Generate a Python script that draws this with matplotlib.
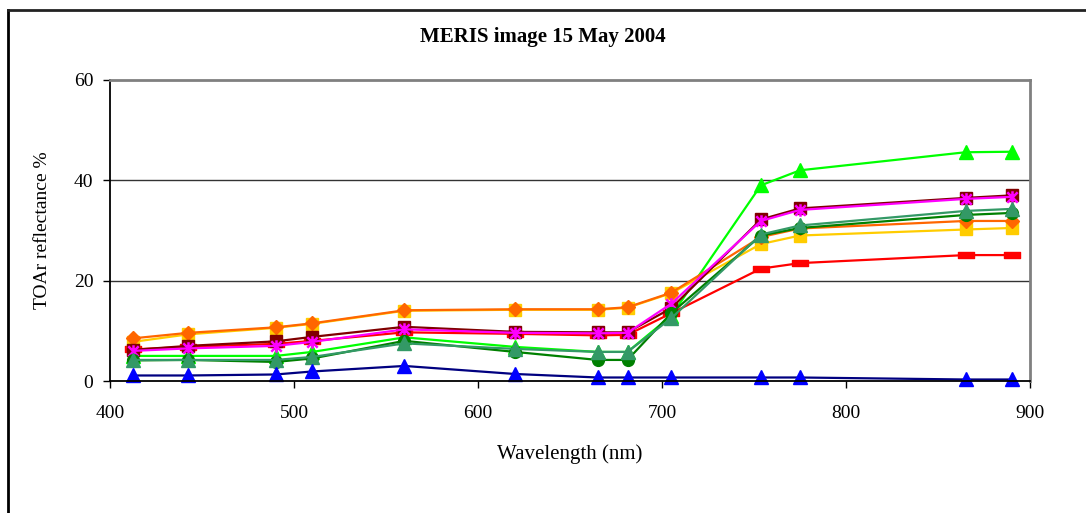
import matplotlib
matplotlib.use("Agg")
import matplotlib.pyplot as plt
from matplotlib.lines import Line2D
from matplotlib.path import Path

plt.rcParams["font.family"] = ["Liberation Serif", "DejaVu Serif"]

wl = [412.5, 442.5, 490, 510, 560, 620, 665, 681.25, 705, 753.75, 775, 865, 890]

lime = [5.0, 5.0, 5.0, 5.8, 8.7, 6.8, 5.8, 5.8, 13.0, 39.0, 42.0, 45.6, 45.7]
red = [6.3, 6.8, 7.4, 8.0, 9.7, 9.4, 9.1, 9.2, 13.5, 22.4, 23.5, 25.1, 25.1]
gold = [7.8, 9.3, 10.6, 11.4, 14.0, 14.2, 14.2, 14.6, 17.5, 27.3, 29.0, 30.2, 30.5]
orange = [8.5, 9.6, 10.7, 11.5, 14.1, 14.3, 14.3, 14.7, 17.6, 28.7, 30.4, 31.9, 31.9]
maroon = [6.2, 7.0, 7.9, 8.8, 10.8, 9.8, 9.7, 9.7, 14.5, 32.2, 34.4, 36.5, 37.0]
magenta = [6.0, 6.5, 7.0, 7.8, 10.3, 9.6, 9.5, 9.6, 15.4, 31.9, 34.1, 36.3, 36.7]
green = [4.1, 4.2, 3.8, 4.5, 8.0, 5.8, 4.2, 4.2, 13.5, 29.0, 30.5, 33.1, 33.5]
seagreen = [4.2, 4.2, 4.2, 4.8, 7.5, 6.4, 5.8, 5.8, 12.5, 29.2, 31.0, 33.9, 34.3]
blue = [1.1, 1.1, 1.3, 1.9, 3.0, 1.4, 0.7, 0.7, 0.7, 0.7, 0.7, 0.3, 0.3]

# excel style "dash" marker
dash = Path([(-1, -0.35), (1, -0.35), (1, 0.35), (-1, 0.35), (-1, -0.35)],
            [Path.MOVETO, Path.LINETO, Path.LINETO, Path.LINETO, Path.CLOSEPOLY])
# excel style asterisk: X plus vertical stroke
aster = Path([(-1, -1), (1, 1), (-1, 1), (1, -1), (0, -1.2), (0, 1.2)],
             [Path.MOVETO, Path.LINETO, Path.MOVETO, Path.LINETO, Path.MOVETO, Path.LINETO])

fig = plt.figure(figsize=(10.86, 5.13), dpi=100)
ax = fig.add_axes([110 / 1086, 1 - 381 / 513, 920 / 1086, 301 / 513])

lw = 1.6
kw = dict(lw=lw, clip_on=False)
ax.plot(wl, lime, color="#00FF00", marker="^", ms=10, mec="#00FF00", mfc="#00FF00", **kw)
ax.plot(wl, red, color="#FF0000", marker=dash, ms=11, mec="#FF0000", mfc="#FF0000", **kw)
ax.plot(wl, gold, color="#FFCC00", marker="s", ms=8.5, mec="#FFCC00", mfc="#FFCC00", **kw)
ax.plot(wl, orange, color="#FF6600", marker="D", ms=7, mec="#FF6600", mfc="#FF6600", **kw)
ax.plot(wl, maroon, color="#800000", marker="s", ms=8.5, mec="#800000", mfc="#800000", **kw)
ax.plot(wl, magenta, color="#FF00FF", marker=aster, ms=9, mec="#FF00FF", mew=1.8, **kw)
ax.plot(wl, green, color="#008000", marker="o", ms=8.5, mec="#008000", mfc="#008000", **kw)
ax.plot(wl, seagreen, color="#339966", marker="^", ms=10, mec="#339966", mfc="#339966", **kw)
ax.plot(wl, blue, color="#000080", marker="^", ms=10, mec="#0000FF", mfc="#0000FF", **kw)

ax.set_xlim(400, 900)
ax.set_ylim(0, 60)
ax.set_xticks([400, 500, 600, 700, 800, 900])
ax.set_yticks([0, 20, 40, 60])
for y in [20, 40]:
    ax.axhline(y, color="#333333", lw=1.0, zorder=0)

ax.spines["top"].set_color("#808080")
ax.spines["right"].set_color("#808080")
ax.spines["top"].set_linewidth(2)
ax.spines["right"].set_linewidth(2)
ax.spines["left"].set_color("black")
ax.spines["bottom"].set_color("black")
ax.spines["left"].set_linewidth(1.3)
ax.spines["bottom"].set_linewidth(1.3)
ax.tick_params(axis="both", direction="out", length=5, width=1, labelsize=14)
ax.tick_params(axis="x", pad=12)
ax.tick_params(axis="y", pad=7)

ax.set_xlabel("Wavelength (nm)", fontsize=15, labelpad=16)
ax.set_ylabel("TOAr reflectance %", fontsize=14, labelpad=16)
fig.text(0.5, 1 - 37 / 513, "MERIS image 15 May 2004", ha="center", va="center",
         fontsize=15, fontweight="bold")

# chart area border
fig.add_artist(Line2D([8 / 1086, 8 / 1086], [0, 1 - 10 / 513], color="black", lw=2,
                      transform=fig.transFigure))
fig.add_artist(Line2D([8 / 1086, 1], [1 - 10 / 513, 1 - 10 / 513], color="#222222", lw=2,
                      transform=fig.transFigure))

fig.savefig("out.png", dpi=100)
